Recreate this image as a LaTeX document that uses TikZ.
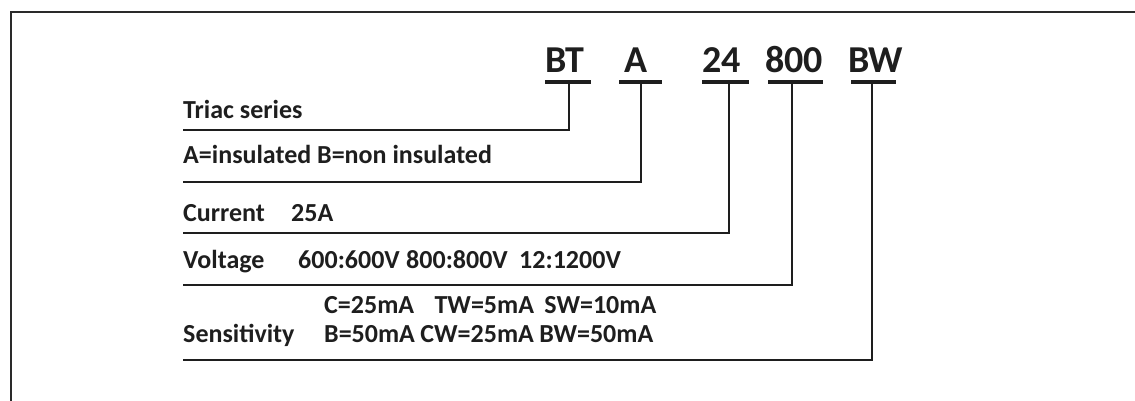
\documentclass[tikz,border=0pt]{standalone}
\usepackage{fontspec}
\setmainfont{Carlito}
\usetikzlibrary{positioning,calc}
\definecolor{ink}{HTML}{1E1E1E}
\definecolor{edge}{HTML}{2A2A2A}

\begin{document}
\begin{tikzpicture}[x=1pt,y=-1pt,
   code/.style={anchor=base west,inner sep=0pt,font=\fontsize{38}{40}\selectfont\bfseries,text=ink},
   lab/.style={anchor=base west,inner sep=0pt,font=\fontsize{26}{30}\selectfont\bfseries,text=ink},
   bar/.style={ink,line width=4pt},
   lead/.style={ink,line width=1.8pt}]
  \useasboundingbox (0,0) rectangle (1135,401);
  % frame, top and left side only
  \draw[edge,line width=2pt] (1135,12) -- (11,12) -- (11,401);
  % part number codes
  \foreach \nm/\tx/\ba/\bb/\vx in {BT/545/545/591/569,A/624/619/662/641,24/702/702/749/729,800/765/768/823/792,BW/848/851/896/872}{
    \node[code] (c\nm) at (\tx,73) {\nm};
    \draw[bar] (\ba,82) -- (\bb,82);
    \coordinate (t\nm) at (\vx,82);
  }
  % field texts
  \node[lab] (triac) at (183,119) {Triac series};
  \node[lab] (ins) at (183,164) {A=insulated B=non insulated};
  \node[lab] (cur) at (183,221) {Current};
  \node[lab] (curval) at (291,221) {25A};
  \node[lab] (volt) at (183,268) {Voltage};
  \node[lab] (volta) at (298,268) {600:600V};
  \node[lab,base right=6pt of volta] (voltb) {800:800V};
  \node[lab,base right=11pt of voltb] (voltc) {12:1200V};
  \node[lab] (sens) at (183,342) {Sensitivity};
  \node[lab] (sensa) at (324,313) {C=25mA};
  \node[lab,base right=20pt of sensa] (sensb) {TW=5mA};
  \node[lab,base right=10pt of sensb] (sensc) {SW=10mA};
  \node[lab] (sensd) at (324,342) {B=50mA};
  \node[lab,base right=5pt of sensd] (sense) {CW=25mA};
  \node[lab,base right=5pt of sense] (sensf) {BW=50mA};
  % leader lines
  \foreach \nm/\yy/\cd in {Triac/130/BT,Ins/182/A,Cur/233/24,Volt/285/800,Sens/360/BW}{
    \coordinate (e\nm) at (183,\yy);
    \draw[lead] (e\nm) -| (t\cd);
  }
\end{tikzpicture}
\end{document}
